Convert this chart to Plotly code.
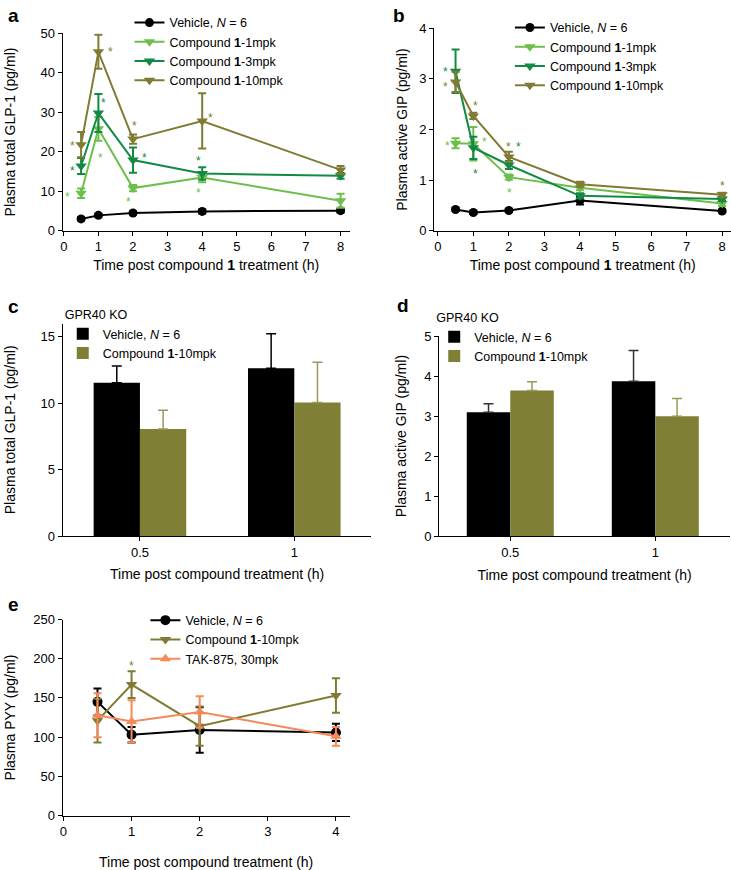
import plotly.graph_objects as go

W, H = 731, 870
FONT = "Arial, Liberation Sans, sans-serif"

BLACK = "#000000"
LGREEN = "#6cbf4b"
DGREEN = "#138a43"
OLIVE = "#807b33"
BAROLIVE = "#7f8036"
ORANGE = "#f5895a"

# ---------------- data ----------------
# panel a: total GLP-1 (pg/ml)
time_a = [0.5, 1, 2, 4, 8]
glp_veh = [3.0, 3.9, 4.5, 4.9, 5.1]
glp_veh_err = [0.4, 0.4, 0.4, 0.5, 0.5]
glp_1 = [9.5, 25.8, 10.8, 13.5, 7.6]
glp_1_err = [1.2, 3.0, 0.8, 1.2, 1.8]
glp_3 = [16.4, 29.8, 17.9, 14.5, 13.9]
glp_3_err = [2.0, 4.8, 3.2, 1.6, 0.7]
glp_10 = [21.8, 45.3, 23.2, 27.8, 15.4]
glp_10_err = [3.2, 4.3, 1.2, 7.0, 1.0]

star_a1_x = [0.1, 1.05, 1.88, 3.9]
star_a1_y = [9.4, 19.1, 8.1, 10.2]
star_a3_x = [0.24, 1.15, 2.33, 3.9, 8.31]
star_a3_y = [16.0, 33.2, 19.3, 18.3, 13.7]
star_a10_x = [0.25, 1.34, 2.04, 4.24, 8.31]
star_a10_y = [22.2, 45.9, 27.2, 29.4, 15.8]

# panel b: active GIP (pg/ml)
time_b = [0.5, 1, 2, 4, 8]
gip_veh = [0.42, 0.36, 0.40, 0.60, 0.39]
gip_veh_err = [0.03, 0.03, 0.03, 0.08, 0.03]
gip_1 = [1.73, 1.72, 1.06, 0.85, 0.54]
gip_1_err = [0.10, 0.33, 0.05, 0.05, 0.05]
gip_3 = [3.15, 1.64, 1.30, 0.69, 0.63]
gip_3_err = [0.43, 0.22, 0.08, 0.05, 0.04]
gip_10 = [2.94, 2.27, 1.46, 0.92, 0.71]
gip_10_err = [0.20, 0.06, 0.10, 0.05, 0.04]

star_b1_x = [0.26, 1.31, 2.03]
star_b1_y = [1.73, 1.81, 0.80]
star_b3_x = [0.23, 1.07, 2.27]
star_b3_y = [3.19, 1.18, 1.72]
star_b10_x = [0.23, 1.07, 1.99, 8.0]
star_b10_y = [2.90, 2.53, 1.72, 0.94]

# panel c: GPR40 KO total GLP-1
cats_ko = ["0.5", "1"]
ko_glp_veh = [11.55, 12.64]
ko_glp_veh_err = [1.26, 2.59]
ko_glp_10 = [8.07, 10.05]
ko_glp_10_err = [1.41, 3.04]

# panel d: GPR40 KO active GIP
ko_gip_veh = [3.10, 3.87]
ko_gip_veh_err = [0.21, 0.77]
ko_gip_10 = [3.64, 3.00]
ko_gip_10_err = [0.22, 0.44]

# panel e: PYY
time_e = [0.5, 1, 2, 4]
pyy_veh = [145, 103, 109, 106]
pyy_veh_err = [17, 10, 29, 11]
pyy_10 = [121, 167, 114, 153]
pyy_10_err = [28, 17, 25, 22]
pyy_tak = [128, 120, 132, 101]
pyy_tak_err = [28, 27, 20, 12]
star_e_x = [1.0]
star_e_y = [195]

VEH = "Vehicle, <i>N</i> = 6"
C1 = "Compound <b>1</b>-1mpk"
C3 = "Compound <b>1</b>-3mpk"
C10 = "Compound <b>1</b>-10mpk"
TAK = "TAK-875, 30mpk"


def fx(p):
    return p / W


def fy(p):
    return 1 - p / H


fig = go.Figure()


def line_trace(x, y, err, name, color, symbol, xa, ya, legend, size=10):
    return go.Scatter(
        x=x, y=y, name=name, mode="lines+markers",
        line=dict(color=color, width=2),
        marker=dict(color=color, symbol=symbol, size=size, line=dict(width=0)),
        error_y=dict(type="data", array=err, visible=True, color=color,
                     thickness=2, width=4),
        xaxis=xa, yaxis=ya, legend=legend,
    )


# panel a
fig.add_trace(line_trace(time_a, glp_veh, glp_veh_err, VEH, BLACK, "circle", "x", "y", "legend", 9))
fig.add_trace(line_trace(time_a, glp_1, glp_1_err, C1, LGREEN, "triangle-down", "x", "y", "legend"))
fig.add_trace(line_trace(time_a, glp_3, glp_3_err, C3, DGREEN, "triangle-down", "x", "y", "legend"))
fig.add_trace(line_trace(time_a, glp_10, glp_10_err, C10, OLIVE, "triangle-down", "x", "y", "legend"))

# panel b
fig.add_trace(line_trace(time_b, gip_veh, gip_veh_err, VEH, BLACK, "circle", "x2", "y2", "legend2", 9))
fig.add_trace(line_trace(time_b, gip_1, gip_1_err, C1, LGREEN, "triangle-down", "x2", "y2", "legend2"))
fig.add_trace(line_trace(time_b, gip_3, gip_3_err, C3, DGREEN, "triangle-down", "x2", "y2", "legend2"))
fig.add_trace(line_trace(time_b, gip_10, gip_10_err, C10, OLIVE, "triangle-down", "x2", "y2", "legend2"))


def bar_trace(x, y, err, name, color, ecolor, xa, ya, legend, og):
    return go.Bar(
        x=x, y=y, name=name, marker=dict(color=color, line=dict(width=0)),
        error_y=dict(type="data", symmetric=False, array=err,
                     arrayminus=[0] * len(err), color=ecolor,
                     thickness=1.5, width=5),
        xaxis=xa, yaxis=ya, legend=legend, offsetgroup=og,
    )


# panel c
fig.add_trace(bar_trace(cats_ko, ko_glp_veh, ko_glp_veh_err, VEH, BLACK, BLACK, "x3", "y3", "legend3", "v"))
fig.add_trace(bar_trace(cats_ko, ko_glp_10, ko_glp_10_err, C10, BAROLIVE, "#9a9855", "x3", "y3", "legend3", "c"))
# panel d
fig.add_trace(bar_trace(cats_ko, ko_gip_veh, ko_gip_veh_err, VEH, BLACK, "#333333", "x4", "y4", "legend4", "v"))
fig.add_trace(bar_trace(cats_ko, ko_gip_10, ko_gip_10_err, C10, BAROLIVE, "#9a9855", "x4", "y4", "legend4", "c"))

# panel e
fig.add_trace(line_trace(time_e, pyy_veh, pyy_veh_err, VEH, BLACK, "circle", "x5", "y5", "legend5", 10))
fig.add_trace(line_trace(time_e, pyy_10, pyy_10_err, C10, OLIVE, "triangle-down", "x5", "y5", "legend5"))
fig.add_trace(line_trace(time_e, pyy_tak, pyy_tak_err, TAK, ORANGE, "triangle-up", "x5", "y5", "legend5"))

# significance stars
annotations = []


def add_stars(xs, ys, color, xr, yr):
    for x, y in zip(xs, ys):
        annotations.append(dict(
            x=x, y=y, xref=xr, yref=yr, text="*", showarrow=False,
            font=dict(family=FONT, size=12, color=color), yshift=-3,
        ))


add_stars(star_a1_x, star_a1_y, LGREEN, "x", "y")
add_stars(star_a3_x, star_a3_y, DGREEN, "x", "y")
add_stars(star_a10_x, star_a10_y, OLIVE, "x", "y")
add_stars(star_b1_x, star_b1_y, LGREEN, "x2", "y2")
add_stars(star_b3_x, star_b3_y, DGREEN, "x2", "y2")
add_stars(star_b10_x, star_b10_y, OLIVE, "x2", "y2")
add_stars(star_e_x, star_e_y, OLIVE, "x5", "y5")

# panel letters
for letter, px, py in [("a", 3, 9), ("b", 390, 9), ("c", 3, 305), ("d", 394, 304), ("e", 3, 608)]:
    annotations.append(dict(
        x=fx(px), y=fy(py), xref="paper", yref="paper", text="<b>%s</b>" % letter,
        showarrow=False, xanchor="left", yanchor="middle",
        font=dict(family=FONT, size=19, color="black"),
    ))

TICKF = dict(family=FONT, size=13, color="black")
TITLEF = dict(family=FONT, size=14, color="black")


def xax(d0, d1, rng, anchor, title, tickvals=None, cat=False, standoff=10):
    a = dict(
        domain=[fx(d0), fx(d1)], range=rng, anchor=anchor,
        showline=True, linecolor="black", linewidth=1.2,
        ticks="outside", ticklen=4, tickwidth=1.2, tickcolor="black",
        showgrid=False, zeroline=False, tickfont=TICKF,
        title=dict(text=title, font=TITLEF, standoff=standoff),
    )
    if cat:
        a["type"] = "category"
    else:
        a["tickvals"] = tickvals
    return a


def yax(top, bottom, rng, anchor, title, dtick, standoff=12):
    return dict(
        domain=[fy(bottom), fy(top)], range=rng, anchor=anchor,
        showline=True, linecolor="black", linewidth=1.2,
        ticks="outside", ticklen=4, tickwidth=1.2, tickcolor="black",
        showgrid=False, zeroline=False, tickfont=TICKF, dtick=dtick,
        title=dict(text=title, font=TITLEF, standoff=standoff),
    )


XT1 = "Time post compound <b>1</b> treatment (h)"
XT2 = "Time post compound treatment (h)"

legfont = dict(family=FONT, size=12.5, color="black")


def leg(px, py):
    return dict(x=fx(px), y=fy(py), xanchor="left", yanchor="top",
                bgcolor="rgba(0,0,0,0)", borderwidth=0, font=legfont,
                tracegroupgap=0, itemwidth=30)


fig.update_layout(
    width=W, height=H,
    margin=dict(l=0, r=0, t=0, b=0),
    paper_bgcolor="white", plot_bgcolor="white",
    font=dict(family=FONT, color="black"),
    barmode="group", bargap=0.4, bargroupgap=0,
    xaxis=xax(60, 348, [-0.03, 8.26], "y", XT1, [0, 1, 2, 3, 4, 5, 6, 7, 8], standoff=6),
    yaxis=yax(26.7, 227.7, [0, 50], "x", "Plasma total GLP-1 (pg/ml)", 10, standoff=21),
    xaxis2=xax(433, 731, [-0.1, 8.25], "y2", XT1, [0, 1, 2, 3, 4, 5, 6, 7, 8], standoff=6),
    yaxis2=yax(21.7, 227.7, [0, 4], "x2", "Plasma active GIP (pg/ml)", 1, standoff=8),
    xaxis3=xax(60, 370, [-0.5, 1.5], "y3", XT2, cat=True, standoff=10),
    yaxis3=yax(322.2, 538.3, [0, 16], "x3", "Plasma total GLP-1 (pg/ml)", 5, standoff=21),
    xaxis4=xax(438, 730, [-0.49, 1.515], "y4", XT2, cat=True, standoff=11),
    yaxis4=yax(335, 538.3, [0, 5], "x4", "Plasma active GIP (pg/ml)", 1, standoff=14),
    xaxis5=xax(60, 348, [-0.01, 4.2], "y5", XT2, [0, 1, 2, 3, 4], standoff=19),
    yaxis5=yax(623.3, 822.7, [0, 250], "x5", "Plasma PYY (pg/ml)", 50, standoff=14),
    legend=leg(127, 1),
    legend2=leg(509, 6),
    legend3=dict(leg(60, 301), title=dict(text="GPR40 KO", font=legfont)),
    legend4=dict(leg(433, 304), title=dict(text="GPR40 KO", font=legfont)),
    legend5=leg(143, 609),
    annotations=annotations,
)

fig.write_html("out.html", config={"displayModeBar": False},
               post_script="document.body.style.margin='0px';")
